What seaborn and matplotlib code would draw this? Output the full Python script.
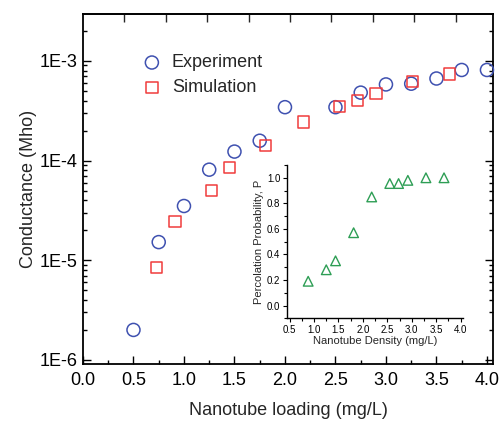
import numpy as np
import pandas as pd
import matplotlib
matplotlib.use("Agg")
import matplotlib.pyplot as plt
from matplotlib.ticker import FixedLocator, MultipleLocator, LogLocator, FuncFormatter, NullFormatter
import seaborn as sns

# Measured conductance vs. nanotube loading
exp_loading = [0.5, 0.75, 1.0, 1.25, 1.5, 1.75, 2.0, 2.5, 2.75, 3.0, 3.25, 3.5, 3.75, 4.0]
exp_conductance = [2.0e-6, 1.52e-5, 3.5e-5, 8.1e-5, 1.23e-4, 1.58e-4, 3.43e-4,
                   3.43e-4, 4.8e-4, 5.8e-4, 5.9e-4, 6.65e-4, 8.1e-4, 8.1e-4]

# Simulated conductance
sim_loading = [0.73, 0.91, 1.27, 1.45, 1.81, 2.18, 2.54, 2.72, 2.90, 3.26, 3.63]
sim_conductance = [8.5e-6, 2.44e-5, 5.0e-5, 8.5e-5, 1.42e-4, 2.43e-4,
                   3.48e-4, 4.0e-4, 4.74e-4, 6.2e-4, 7.4e-4]

# Percolation probability vs. nanotube density (inset)
perc_density = [0.88, 1.25, 1.44, 1.81, 2.18, 2.55, 2.73, 2.92, 3.29, 3.66]
perc_prob = [0.19, 0.28, 0.35, 0.57, 0.85, 0.955, 0.955, 0.98, 1.0, 1.0]

exp_df = pd.DataFrame({"loading": exp_loading, "G": exp_conductance})
sim_df = pd.DataFrame({"loading": sim_loading, "G": sim_conductance})
perc_df = pd.DataFrame({"density": perc_density, "P": perc_prob})

sns.set_style("ticks")
plt.rcParams["font.family"] = ["Liberation Sans", "DejaVu Sans"]

BLUE = "#3f51b0"
RED = "#f03c3c"
GREEN = "#2e9e55"

fig = plt.figure(figsize=(4.99, 4.22), dpi=100)
ax = fig.add_axes([0.1663, 0.1374, 0.8217, 0.8294])

sns.scatterplot(data=exp_df, x="loading", y="G", ax=ax, marker="o", s=88,
                facecolors="none", edgecolor=BLUE, linewidth=1.1, label="Experiment",
                clip_on=False, zorder=3)
sns.scatterplot(data=sim_df, x="loading", y="G", ax=ax, marker="s", s=66,
                facecolors="none", edgecolor=RED, linewidth=1.1, label="Simulation",
                clip_on=False, zorder=3)

ax.set_yscale("log")
ax.set_xlim(0, 4.06)
ax.set_ylim(9.1e-7, 2.95e-3)

ax.xaxis.set_major_locator(MultipleLocator(0.5))
ax.xaxis.set_minor_locator(MultipleLocator(0.25))
ax.xaxis.set_major_formatter(FuncFormatter(lambda v, p: f"{v:.1f}"))
ax.yaxis.set_major_locator(LogLocator(base=10, numticks=10))
ax.yaxis.set_minor_locator(LogLocator(base=10, subs=np.arange(2, 10), numticks=10))
ax.yaxis.set_major_formatter(FuncFormatter(lambda v, p: f"1E{int(round(np.log10(v)))}"))
ax.yaxis.set_minor_formatter(NullFormatter())

ax.tick_params(axis="both", which="both", direction="in", top=False, right=True,
               colors="black", labelsize=13, width=1.0)
ax.tick_params(axis="both", which="major", length=6)
ax.tick_params(axis="both", which="minor", length=3)
ax.tick_params(axis="x", pad=6)
ax.tick_params(axis="y", pad=4)

# secondary top axis ticks
top = ax.secondary_xaxis("top")
top.xaxis.set_major_locator(FixedLocator(np.arange(0.41, 4.0, 0.41)))
top.xaxis.set_major_formatter(NullFormatter())
top.tick_params(direction="in", length=6, width=1.0)

for sp in ax.spines.values():
    sp.set_visible(True)
    sp.set_linewidth(1.3)
    sp.set_color("black")
top.spines["top"].set_linewidth(1.3)

ax.set_xlabel("Nanotube loading (mg/L)", fontsize=13, labelpad=9)
ax.set_ylabel("Conductance (Mho)", fontsize=13, labelpad=2)

ax.legend(loc="upper left", bbox_to_anchor=(0.146, 0.885), frameon=False,
          fontsize=13, handlelength=1.0, handletextpad=0.6, labelspacing=0.45,
          borderaxespad=0, borderpad=0)

# Inset: percolation probability
ins = fig.add_axes([0.5745, 0.2457, 0.3535, 0.3633])
ins.patch.set_alpha(0)
sns.scatterplot(data=perc_df, x="density", y="P", ax=ins, marker="^", s=48,
                facecolors="none", edgecolor=GREEN, linewidth=1.0)
ins.set_xlim(0.44, 4.05)
ins.set_ylim(-0.1, 1.1)
ins.xaxis.set_major_locator(MultipleLocator(0.5))
ins.xaxis.set_minor_locator(MultipleLocator(0.25))
ins.yaxis.set_major_locator(MultipleLocator(0.2))
ins.yaxis.set_minor_locator(MultipleLocator(0.1))
ins.xaxis.set_major_formatter(FuncFormatter(lambda v, p: f"{v:.1f}"))
ins.yaxis.set_major_formatter(FuncFormatter(lambda v, p: f"{v:.1f}"))
sns.despine(ax=ins)
for sp in ("left", "bottom"):
    ins.spines[sp].set_linewidth(1.0)
    ins.spines[sp].set_color("black")
ins.tick_params(axis="both", which="both", direction="out", labelsize=7,
                colors="black", width=0.8, pad=1.5)
ins.tick_params(which="major", length=3)
ins.tick_params(which="minor", length=2)
ins.set_xlabel("Nanotube Density (mg/L)", fontsize=8, labelpad=1)
ins.set_ylabel("Percolation Probability, P", fontsize=8, labelpad=2)

fig.savefig("out.png", dpi=100)
